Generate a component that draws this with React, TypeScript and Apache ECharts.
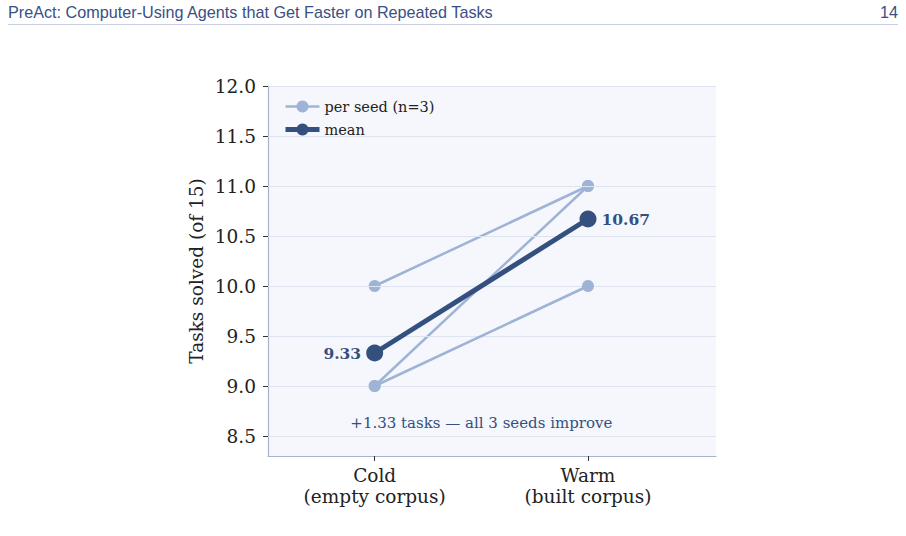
import React, { useEffect, useRef } from "react";
import * as echarts from "echarts";

const headerTitle = "PreAct: Computer-Using Agents that Get Faster on Repeated Tasks";
const pageNumber = "14";
const categories = ["Cold\n(empty corpus)", "Warm\n(built corpus)"];
const categoryPositions = [0, 1];
const seedRuns = [
  [9, 11],
  [10, 11],
  [9, 10],
];
const meanValues = [9.33, 10.67];
const meanLabelSides = ["left", "right"];
const yTicks = [8.5, 9.0, 9.5, 10.0, 10.5, 11.0, 11.5, 12.0];
const annotationText = "+1.33 tasks \u2014 all 3 seeds improve";
const annotationPoint = [0.5, 8.63];

const SERIF = "'DejaVu Serif', serif";
const SANS = "'Liberation Sans', Arial, sans-serif";
const SEED_COLOR = "#9fb3d6";
const MEAN_COLOR = "#34507f";

export default function App() {
  const ref = useRef<HTMLDivElement>(null);
  useEffect(() => {
    if (!ref.current) return;
    const chart = echarts.init(ref.current, undefined, { renderer: "svg" });
    const seedSeries = seedRuns.map((run, i) => ({
      name: "per seed (n=3)",
      type: "line",
      data: run.map((v, j) => [categoryPositions[j], v]),
      symbol: "circle",
      symbolSize: 12,
      showSymbol: true,
      itemStyle: { color: SEED_COLOR },
      lineStyle: { color: SEED_COLOR, width: 2.5 },
      z: 3 + i,
      silent: true,
    }));
    chart.setOption({
      animation: false,
      backgroundColor: "#ffffff",
      graphic: [
        {
          type: "text",
          left: 8,
          top: 4,
          style: { text: headerTitle, font: `16.2px ${SANS}`, fill: "#3a4f86" },
        },
        {
          type: "text",
          right: 8,
          top: 4,
          style: { text: pageNumber, font: `16.2px ${SANS}`, fill: "#3a4f86" },
        },
        {
          type: "line",
          shape: { x1: 8, y1: 24.5, x2: 898, y2: 24.5 },
          style: { stroke: "#c9cfe2", lineWidth: 1 },
        },
      ],
      legend: {
        left: 278,
        top: 94,
        z: 20,
        orient: "vertical",
        itemWidth: 34,
        itemHeight: 15,
        itemGap: 8,
        data: [
          { name: "per seed (n=3)", lineStyle: { width: 2.5 } },
          { name: "mean", lineStyle: { width: 5 } },
        ],
        textStyle: { fontFamily: SERIF, fontSize: 14.5, color: "#222" },
      },
      grid: {
        left: 268,
        top: 86,
        width: 448,
        height: 370,
        show: true,
        backgroundColor: "#f5f7fc",
        borderWidth: 0,
      },
      xAxis: {
        type: "value",
        min: -0.5,
        max: 1.6,
        axisLine: { show: true, onZero: false, lineStyle: { color: "#a9b4cc", width: 1.2 } },
        axisTick: { show: true, customValues: categoryPositions, length: 5, lineStyle: { color: "#333" } },
        axisLabel: {
          customValues: categoryPositions,
          formatter: (v: number) => categories[Math.round(v)] ?? "",
          fontFamily: SERIF,
          fontSize: 18.5,
          lineHeight: 21,
          color: "#222",
          margin: 9,
        },
        splitLine: { show: false },
      },
      yAxis: {
        type: "value",
        min: 8.3,
        max: 12.0,
        name: "Tasks solved (of 15)",
        nameLocation: "middle",
        nameGap: 62,
        nameTextStyle: { fontFamily: SERIF, fontSize: 18.5, color: "#222" },
        axisLine: { show: true, onZero: false, lineStyle: { color: "#a9b4cc", width: 1.2 } },
        axisTick: { show: true, customValues: yTicks, length: 5, lineStyle: { color: "#333" } },
        axisLabel: {
          customValues: yTicks,
          formatter: (v: number) => v.toFixed(1),
          fontFamily: SERIF,
          fontSize: 18.5,
          color: "#222",
          margin: 12,
        },
        splitLine: { show: false },
      },
      series: [
        {
          name: "annotation",
          type: "scatter",
          data: [annotationPoint],
          symbolSize: 0,
          silent: true,
          z: 1,
          itemStyle: { opacity: 1 },
          label: {
            show: true,
            position: "inside",
            formatter: annotationText,
            fontFamily: SERIF,
            fontSize: 15,
            color: "#34507f",
            opacity: 1,
          },
          markLine: {
            silent: true,
            symbol: "none",
            label: { show: false },
            lineStyle: { color: "#dde3ef", width: 1, type: "solid" },
            data: yTicks.map((v) => ({ yAxis: v })),
          },
        },
        ...seedSeries,
        {
          name: "mean",
          type: "line",
          data: meanValues.map((v, j) => ({
            value: [categoryPositions[j], v],
            label: { position: meanLabelSides[j] },
          })),
          symbol: "circle",
          symbolSize: 17,
          showSymbol: true,
          itemStyle: { color: MEAN_COLOR },
          lineStyle: { color: MEAN_COLOR, width: 5 },
          z: 10,
          silent: true,
          label: {
            show: true,
            distance: 5,
            formatter: (p: any) => p.value[1].toFixed(2),
            fontFamily: SERIF,
            fontSize: 15.5,
            fontWeight: "bold",
            color: MEAN_COLOR,
          },
        },
      ],
    });
    return () => chart.dispose();
  }, []);
  return (
    <div
      ref={ref}
      style={{ position: "fixed", left: 0, top: 0, width: 906, height: 536 }}
    />
  );
}
